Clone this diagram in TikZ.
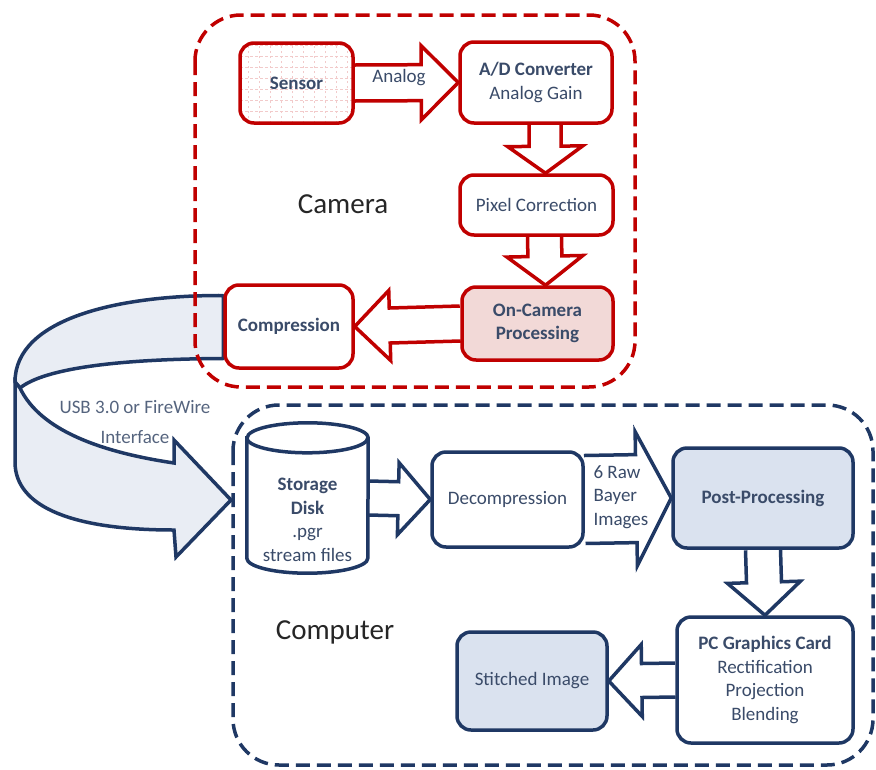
\documentclass[tikz,border=0pt]{standalone}
\usepackage{fontspec}
\setmainfont{Carlito}
\usetikzlibrary{calc}

\definecolor{camred}{HTML}{C00000}
\definecolor{pcblue}{HTML}{1F3864}
\definecolor{txtblue}{HTML}{3A4B69}
\definecolor{capgray}{HTML}{262626}
\definecolor{pinkfill}{HTML}{F2D9D7}
\definecolor{bluefill}{HTML}{DAE2EF}
\definecolor{ribbonfill}{HTML}{E9EDF4}
\definecolor{gridpink}{HTML}{F2CACA}
\definecolor{usbtext}{HTML}{55647E}

\pgfdeclarelayer{ribbon}
\pgfdeclarelayer{links}
\pgfsetlayers{ribbon,links,main}

% block arrow: style, start, tip, shaft half-width, head half-width, head length
\newcommand{\blockarrow}[6]{%
  \path (#2) coordinate (ba-s) (#3) coordinate (ba-t);
  \path ($(ba-t)!#6!(ba-s)$) coordinate (ba-h);
  \draw[#1] ($(ba-s)!#4!90:(ba-t)$) -- ($(ba-h)!#4!90:(ba-t)$)
    -- ($(ba-h)!#5!90:(ba-t)$) -- (ba-t) -- ($(ba-h)!#5!-90:(ba-t)$)
    -- ($(ba-h)!#4!-90:(ba-t)$) -- ($(ba-s)!#4!-90:(ba-t)$);
}

\tikzset{
  boxtext/.style={font=\fontsize{19}{23.5}\selectfont, text=txtblue, align=center},
  redbox/.style={draw=camred, line width=3.5pt, rounded corners=14pt, fill=white, boxtext},
  bluebox/.style={draw=pcblue, line width=3.5pt, rounded corners=14pt, fill=white, boxtext},
  redarrow/.style={draw=camred, line width=3.5pt, fill=white, line join=miter},
  bluearrow/.style={draw=pcblue, line width=3.5pt, fill=white, line join=miter},
  container/.style={line width=3.5pt, dash pattern=on 14pt off 7pt, rounded corners=46pt},
  caption/.style={font=\fontsize{29}{34}\selectfont, text=capgray},
}

\begin{document}
\begin{tikzpicture}[x=1pt, y=-1pt]
\useasboundingbox (0,0) rectangle (876,769);

% ---------- camera blocks ----------
\node[redbox, minimum width=113pt, minimum height=80pt,
  path picture={\draw[gridpink, dash pattern=on 2.5pt off 2.5pt, line width=0.6pt, step=11pt]
    (path picture bounding box.south west) grid (path picture bounding box.north east);}]
  (sensor) at (296.5,83) {\textbf{Sensor}};
\node[redbox, minimum width=152pt, minimum height=81pt] (ad) at (536,82.5)
  {\textbf{A/D Converter}\\Analog Gain};
\node[redbox, minimum width=153pt, minimum height=60pt] (pix) at (536.5,205)
  {Pixel Correction};
\node[redbox, fill=pinkfill, minimum width=151pt, minimum height=73pt] (onc) at (537.5,323.5)
  {\textbf{On-Camera}\\\textbf{Processing}};
\node[redbox, minimum width=128pt, minimum height=83pt] (comp) at (289,326.5)
  {\textbf{Compression}};
\node[caption] (camlbl) at (343,204) {Camera};

% ---------- computer blocks ----------
\node[minimum width=121pt, minimum height=150pt, inner sep=0pt] (disk) at (307.5,498) {};
\draw[pcblue, line width=3.5pt, fill=white]
  ($(disk.north west)+(0,15)$) -- ($(disk.south west)+(0,-15)$)
  arc[start angle=180, end angle=360, x radius=60.5pt, y radius=15pt]
  -- ($(disk.north east)+(0,15)$)
  arc[start angle=0, end angle=180, x radius=60.5pt, y radius=15pt] -- cycle;
\draw[pcblue, line width=3.5pt] ($(disk.north west)+(0,15)$)
  arc[start angle=180, end angle=360, x radius=60.5pt, y radius=15pt];
\node[boxtext] (disklbl) at ($(disk.center)+(0,22)$)
  {\textbf{Storage}\\\textbf{Disk}\\.pgr\\stream files};

\node[bluebox, minimum width=151pt, minimum height=95pt] (dec) at (507.5,499.5)
  {Decompression};
\node[bluebox, fill=bluefill, minimum width=180pt, minimum height=100pt] (post) at (763,498)
  {\textbf{Post-Processing}};
\node[bluebox, minimum width=176pt, minimum height=126pt] (gpu) at (765,680)
  {\textbf{PC Graphics Card}\\Rectification\\Projection\\Blending};
\node[bluebox, fill=bluefill, minimum width=150pt, minimum height=98pt] (stitch) at (532,681)
  {Stitched Image};
\node[caption] (pclbl) at (335,632) {Computer};

% ---------- containers and block arrows ----------
\begin{pgfonlayer}{links}
  \draw[container, camred] (195,15) rectangle (635,387);
  \draw[container, pcblue] (233,405) rectangle (873,765);

  \blockarrow{redarrow}{sensor.east}{ad.west}{18pt}{37pt}{37pt}
  \blockarrow{redarrow}{[xshift=9pt]ad.south}{[xshift=9pt]pix.north}{16pt}{37.5pt}{27pt}
  \blockarrow{redarrow}{[xshift=8pt]pix.south}{[xshift=8pt]onc.north}{17pt}{38pt}{29pt}
  \blockarrow{redarrow}{onc.west}{comp.east}{17.5pt}{35pt}{35pt}

  \blockarrow{bluearrow}{disk.east}{dec.west}{17pt}{36pt}{32pt}
  \blockarrow{bluearrow}{dec.east}{post.west}{44pt}{67pt}{35pt}
  \blockarrow{bluearrow}{post.south}{gpu.north}{17.5pt}{36.5pt}{33pt}
  \blockarrow{bluearrow}{gpu.west}{stitch.east}{17pt}{36pt}{33pt}
\end{pgfonlayer}

\node[boxtext, anchor=center] (analoglbl) at (399,78) {Analog};
\node[boxtext, align=left, anchor=west] (rawlbl) at (590,497) {6 Raw\\Bayer\\Images};

% ---------- curved interface arrow ----------
\begin{pgfonlayer}{ribbon}
  \draw[pcblue, line width=3.5pt, fill=ribbonfill, line join=round]
    ($(comp.west)+(0,-31)$) .. controls (120,295) and (15,318) .. (15,382)
    -- (20,388) .. controls (45,368) and (120,359) .. ($(comp.west)+(0,32)$) -- cycle;
  \draw[pcblue, line width=3.5pt, fill=ribbonfill, line join=miter]
    (15,382) -- (15,462) .. controls (15,508) and (75,530) .. (174,530)
    -- (176,557) -- (231,500) -- (174,440) -- (174,463)
    .. controls (100,452) and (40,430) .. (20,388) -- cycle;
\end{pgfonlayer}
\node[font=\fontsize{19}{23.5}\selectfont, text=usbtext, align=center] (usblbl) at (135,422)
  {USB 3.0 or FireWire\\[6pt]Interface};

\end{tikzpicture}
\end{document}
